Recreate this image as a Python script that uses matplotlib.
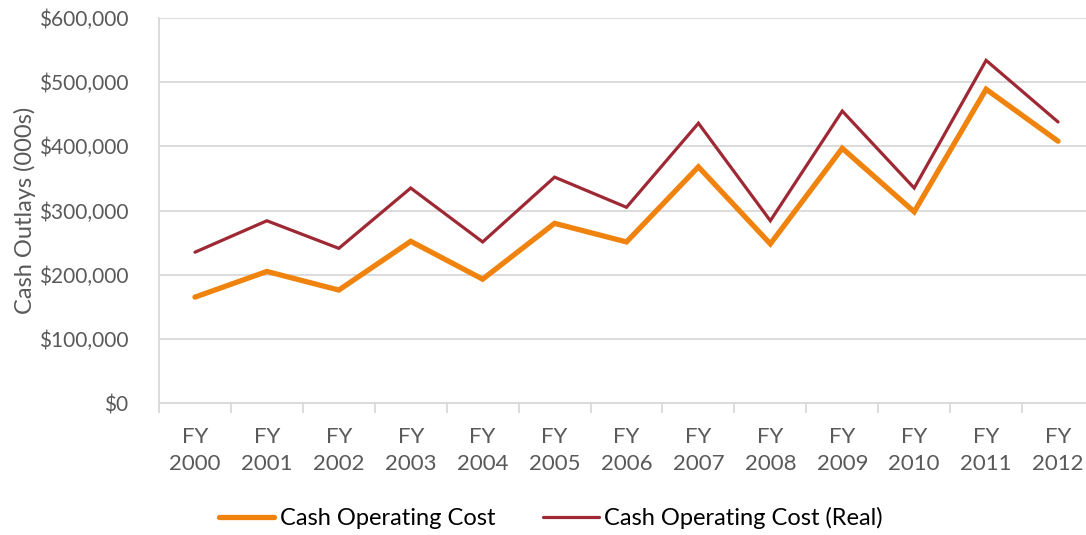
import matplotlib
matplotlib.use("Agg")
import matplotlib.pyplot as plt
from matplotlib.ticker import FuncFormatter

years = ["FY\n2000", "FY\n2001", "FY\n2002", "FY\n2003", "FY\n2004", "FY\n2005", "FY\n2006",
         "FY\n2007", "FY\n2008", "FY\n2009", "FY\n2010", "FY\n2011", "FY\n2012"]
cash_cost = [165000, 205000, 176000, 252000, 193000, 280000, 251000, 368000, 248000, 397000, 298000, 489000, 408000]
cash_cost_real = [235000, 284000, 241000, 335000, 251000, 352000, 305000, 436000, 284000, 455000, 335000, 534000, 438000]

plt.rcParams['font.family'] = ['Lato', 'DejaVu Sans']
gray = '#595959'

W, H = 1086, 535
fig = plt.figure(figsize=(W / 100, H / 100), dpi=100)
left, right, top, bottom = 159, 1094, 18, 403
ax = fig.add_axes([left / W, 1 - bottom / H, (right - left) / W, (bottom - top) / H])

x = list(range(len(years)))
l1, = ax.plot(x, cash_cost, color='#F0830E', lw=3.8, solid_capstyle='round', solid_joinstyle='miter',
              label='Cash Operating Cost')
l2, = ax.plot(x, cash_cost_real, color='#9E2833', lw=2.3, solid_capstyle='round', solid_joinstyle='miter',
              label='Cash Operating Cost (Real)')

ax.set_xlim(-0.5, len(years) - 0.5)
ax.set_ylim(0, 600000)
ax.set_yticks(range(0, 600001, 100000))
ax.yaxis.set_major_formatter(FuncFormatter(lambda v, p: f"${int(v):,}"))
ax.set_xticks([i - 0.5 for i in range(len(years) + 1)])
ax.set_xticklabels([])
ax.set_xticks(x, minor=True)
ax.set_xticklabels(years, minor=True, linespacing=1.45)
ax.tick_params(axis='x', which='major', length=7, width=1.3, color='#D9D9D9', direction='out')
ax.tick_params(axis='x', which='minor', length=0, pad=17, labelsize=16, labelcolor=gray)
ax.tick_params(axis='y', length=0, pad=22, labelsize=15, labelcolor=gray)
ax.grid(axis='y', color='#D9D9D9', lw=1.3)
ax.set_axisbelow(True)
for s in ['top', 'right']:
    ax.spines[s].set_visible(False)
for s in ['left', 'bottom']:
    ax.spines[s].set_color('#D9D9D9')
    ax.spines[s].set_linewidth(1.3)

ax.set_ylabel('Cash Outlays (000s)', fontsize=17, color=gray, labelpad=2)

fig.legend(handles=[l1, l2], loc='center', bbox_to_anchor=(551 / W, 1 - 518 / H), ncol=2,
           frameon=False, fontsize=17, handlelength=2.35, handletextpad=0.25, columnspacing=2.0,
           labelcolor='black')

fig.savefig('out.png', dpi=100)
